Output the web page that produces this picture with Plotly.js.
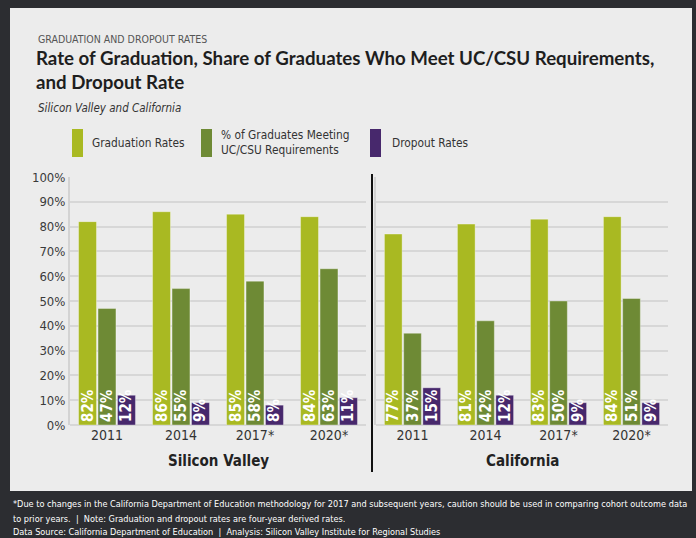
<!DOCTYPE html>
<html><head><meta charset="utf-8">
<script src="https://cdn.plot.ly/plotly-3.0.1.min.js"></script>
<style>html,body{margin:0;padding:0;background:#2c2d31;} #chart{width:696px;height:538px;}</style>
</head><body><div id="chart"></div>
<script>
// ---- data ----
const years = ['2011', '2014', '2017*', '2020*'];
const regions = ['Silicon Valley', 'California'];
const seriesNames = ['Graduation Rates', '% of Graduates Meeting<br>UC/CSU Requirements', 'Dropout Rates'];
const svGraduation = [82, 86, 85, 84];
const svUCCSU = [47, 55, 58, 63];
const svDropout = [12, 9, 8, 11];
const caGraduation = [77, 81, 83, 84];
const caUCCSU = [37, 42, 50, 51];
const caDropout = [15, 12, 9, 9];
const yTickValues = [0, 10, 20, 30, 40, 50, 60, 70, 80, 90, 100];
const yTickLabels = ['0%', '10%', '20%', '30%', '40%', '50%', '60%', '70%', '80%', '90%', '100%'];
const kicker = 'GRADUATION AND DROPOUT RATES';
const titleText = 'Rate of Graduation, Share of Graduates Who Meet UC/CSU Requirements,<br>and Dropout Rate';
const subtitle = 'Silicon Valley and California';
const footnoteLines = [
  '*Due to changes in the California Department of Education methodology for 2017 and subsequent years, caution should be used in comparing cohort outcome data',
  'to prior years.  |  Note: Graduation and dropout rates are four-year derived rates.',
  'Data Source: California Department of Education  |  Analysis: Silicon Valley Institute for Regional Studies'
];

// ---- style ----
const colors = ['#a9b922', '#6e8a35', '#47286c'];
const NARROW = '"DejaVu Sans Condensed", "Liberation Sans Narrow", sans-serif';
const W = 696, H = 538, L = 70, R = 28, T = 177, B = 113;
const PW = W - L - R, PH = H - T - B;
const px = x => (x - L) / PW;
const py = y => (H - B - y) / PH;

const regionData = [[svGraduation, svUCCSU, svDropout], [caGraduation, caUCCSU, caDropout]];
const traces = [];
regionData.forEach((series, r) => {
  series.forEach((vals, s) => {
    traces.push({
      type: 'bar', x: years, y: vals,
      xaxis: r === 0 ? 'x' : 'x2', yaxis: r === 0 ? 'y' : 'y2',
      name: seriesNames[s], showlegend: false,
      marker: {color: colors[s], line: {color: 'rgba(255,255,255,0.35)', width: 1}},
      text: vals.map(v => v + '%'),
      textposition: 'inside', insidetextanchor: 'start', textangle: -90,
      constraintext: 'none', cliponaxis: false,
      textfont: {family: NARROW, size: 15, color: '#ffffff', weight: 700},
      hoverinfo: 'skip'
    });
  });
});

const yax = {
  range: [0, 100], tickmode: 'array', tickvals: yTickValues, ticktext: yTickLabels, ticks: '',
  showgrid: true, gridcolor: '#d7d7d7', gridwidth: 2,
  zeroline: true, zerolinecolor: '#d7d7d7', zerolinewidth: 2,
  showline: true, linecolor: '#d3d3d3', linewidth: 2,
  tickfont: {family: NARROW, size: 13, color: '#3a3a3a'}, ticklabelstandoff: 0,
  fixedrange: true
};
const xax = {
  type: 'category', ticks: '', showgrid: false, zeroline: false, showline: false,
  tickfont: {family: NARROW, size: 14, color: '#333333'}, fixedrange: true
};

const shapes = [
  {type: 'rect', xref: 'paper', yref: 'paper', x0: px(10), x1: px(692), y0: py(8), y1: py(491),
   fillcolor: '#ececec', line: {width: 0}, layer: 'below'},
  {type: 'line', xref: 'paper', yref: 'paper', x0: px(372), x1: px(372), y0: py(174), y1: py(472),
   line: {color: '#111111', width: 2}}
];
const legendX = [[72, 90], [201, 219], [370, 390]];
legendX.forEach((lx, i) => {
  shapes.push({type: 'rect', xref: 'paper', yref: 'paper', x0: px(lx[0]), x1: px(lx[0] + 11),
    y0: py(157), y1: py(129), fillcolor: colors[i], line: {width: 0}});
});

const annotations = [
  {text: kicker, xref: 'paper', yref: 'paper', x: px(36), y: py(39), xanchor: 'left', yanchor: 'middle',
   showarrow: false, font: {family: NARROW, size: 10.5, color: '#555555'}},
  {text: subtitle, xref: 'paper', yref: 'paper', x: px(36), y: py(107.5), xanchor: 'left', yanchor: 'middle',
   showarrow: false, font: {family: NARROW, size: 11.5, color: '#333333', style: 'italic'}},
  {text: regions[0], xref: 'paper', yref: 'paper', x: px(218), y: py(461), xanchor: 'center', yanchor: 'middle',
   showarrow: false, font: {family: NARROW, size: 15, color: '#222222', weight: 700}},
  {text: regions[1], xref: 'paper', yref: 'paper', x: px(522), y: py(461), xanchor: 'center', yanchor: 'middle',
   showarrow: false, font: {family: NARROW, size: 15, color: '#222222', weight: 700}}
];
const footY = [504, 518.5, 532];
footnoteLines.forEach((line, i) => {
  annotations.push({text: line, xref: 'paper', yref: 'paper', x: px(11), y: py(footY[i]),
    xanchor: 'left', yanchor: 'middle', align: 'left', showarrow: false,
    font: {family: NARROW, size: 9.1, color: '#ffffff'}});
});
legendX.forEach((lx, i) => {
  annotations.push({text: seriesNames[i], xref: 'paper', yref: 'paper', x: px(lx[1]), y: py(143),
    xanchor: 'left', yanchor: 'middle', align: 'left', showarrow: false,
    font: {family: NARROW, size: 11.8, color: '#333333'}});
});

const layout = {
  width: W, height: H,
  margin: {l: L, r: R, t: T, b: B, pad: 0},
  paper_bgcolor: '#2c2d31', plot_bgcolor: 'rgba(0,0,0,0)',
  title: {text: titleText, xref: 'container', yref: 'container', x: 36 / W, xanchor: 'left',
          y: 1 - 65 / H, yanchor: 'top',
          font: {family: 'Lato, "Open Sans", sans-serif', size: 18.7, color: '#1e1e1e', weight: 700}},
  barmode: 'group', bargap: 0.21, bargroupgap: 0.08,
  xaxis: Object.assign({}, xax, {domain: [0, px(366)], anchor: 'y'}),
  xaxis2: Object.assign({}, xax, {domain: [px(376), 1], anchor: 'y2'}),
  yaxis: Object.assign({}, yax, {anchor: 'x'}),
  yaxis2: Object.assign({}, yax, {anchor: 'x2', matches: 'y', showticklabels: false}),
  shapes: shapes, annotations: annotations, showlegend: false
};

Plotly.newPlot('chart', traces, layout, {displayModeBar: false, staticPlot: true});
</script></body></html>
